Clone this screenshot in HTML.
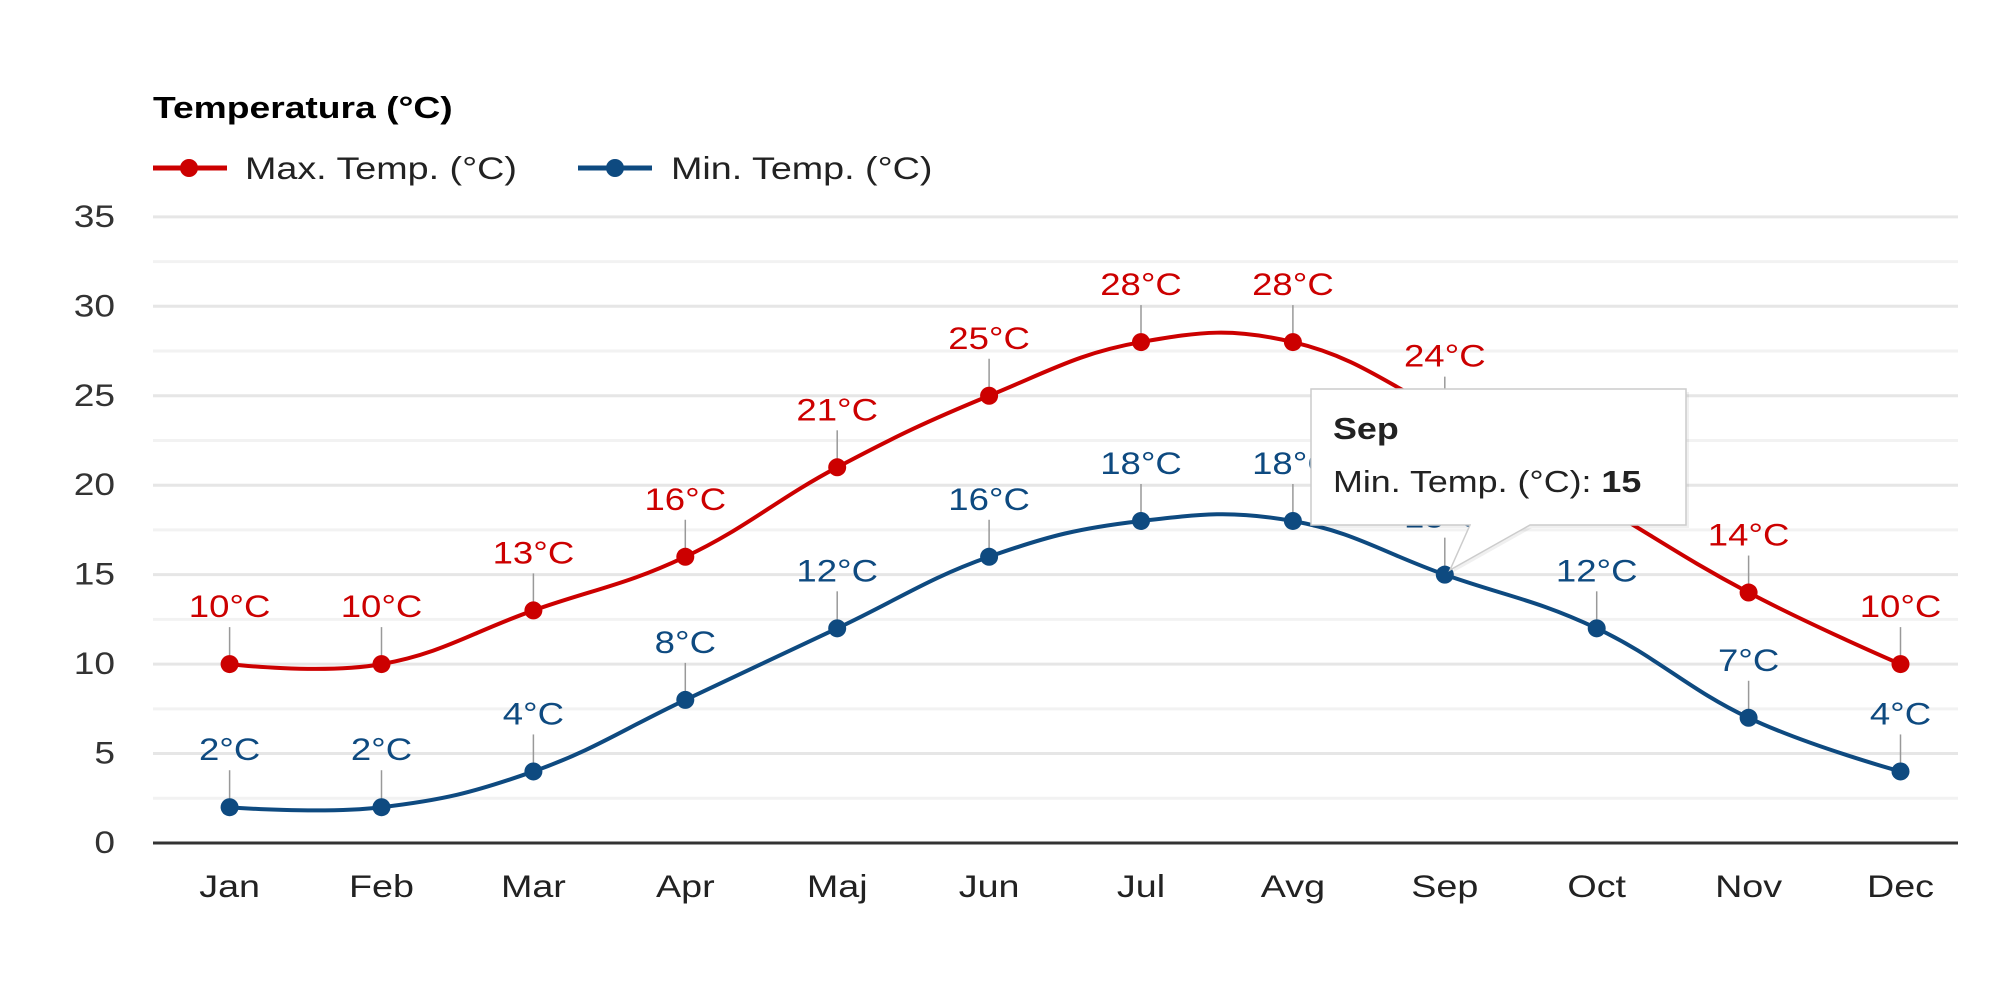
<!DOCTYPE html>
<html><head><meta charset="utf-8"><style>
html,body{margin:0;padding:0;background:#fff;width:2000px;height:1000px;overflow:hidden}
svg{font-family:"Liberation Sans",sans-serif}
</style></head><body>
<svg id="s" width="2000" height="1000" xmlns="http://www.w3.org/2000/svg"></svg>
<script>
const s=document.getElementById('s');
const X0=229.6,DX=151.9,Y0=843,PU=17.89;
const px=i=>X0+i*DX, py=v=>Y0-v*PU;
let h='';
function T(x,y,anc,size,fill,content,w,sx){sx=sx||1.28;
 return `<text transform="translate(${x},${y}) scale(${sx},1.08)" text-anchor="${anc}" font-size="${size}" fill="${fill}"${w?' font-weight="bold"':''}>${content}</text>`;}
for(let v=0;v<=35;v+=2.5){const y=py(v);
 if(v>0)h+=`<line x1="153" x2="1958" y1="${y}" y2="${y}" stroke="${v%5==0?'#e6e6e6':'#f2f2f2'}" stroke-width="3"/>`;
 if(v%5==0)h+=T(115,y+10,'end',29,'#333',v);}
h+=`<line x1="153" x2="1958" y1="843" y2="843" stroke="#333" stroke-width="3"/>`;
const m=['Jan','Feb','Mar','Apr','Maj','Jun','Jul','Avg','Sep','Oct','Nov','Dec'];
m.forEach((t,i)=>h+=T(px(i),897,'middle',29,'#222',t,0,1.3));
h+=T(153,118,'start',28,'#000','Temperatura (°C)',1,1.33);
h+=`<line x1="153" x2="227" y1="168" y2="168" stroke="#cc0000" stroke-width="5"/><circle cx="189" cy="168" r="9" fill="#cc0000"/>`;
h+=T(245,179,'start',29,'#222','Max. Temp. (°C)',0,1.3);
h+=`<line x1="578" x2="652" y1="168" y2="168" stroke="#0e4a80" stroke-width="5"/><circle cx="615" cy="168" r="9" fill="#0e4a80"/>`;
h+=T(671,179,'start',29,'#222','Min. Temp. (°C)',0,1.3);
function spline(d){const P=d.map((v,i)=>[px(i),py(v)]);let p=`M${P[0][0]},${P[0][1]}`;
 const cont=i=>{if(i==0||i==P.length-1)return null;const[x,y]=P[i],[lx,ly]=P[i-1],[nx,ny]=P[i+1];
  let lcx=(1.5*x+lx)/2.5,lcy=(1.5*y+ly)/2.5,rcx=(1.5*x+nx)/2.5,rcy=(1.5*y+ny)/2.5;
  const c=((rcy-lcy)*(rcx-x))/(rcx-lcx)+y-rcy;lcy+=c;rcy+=c;return[[lcx,lcy],[rcx,rcy]];};
 for(let i=1;i<P.length;i++){const a=cont(i-1),b=cont(i);const r=a?a[1]:P[i-1],l=b?b[0]:P[i];
  p+=` C${r[0]},${r[1]} ${l[0]},${l[1]} ${P[i][0]},${P[i][1]}`;}return p;}
function series(d,c){h+=`<path d="${spline(d)}" fill="none" stroke="${c}" stroke-width="4"/>`;
 d.forEach((v,i)=>{const x=px(i),y=py(v);
  h+=`<line x1="${x}" x2="${x}" y1="${y}" y2="${y-37}" stroke="#999" stroke-width="1.5"/>`;
  h+=`<circle cx="${x}" cy="${y}" r="9" fill="${c}"/>`;
  h+=T(x,y-47,'middle',29,c,v+'°C',0,1.26);});}
series([10,10,13,16,21,25,28,28,24,19,14,10],'#cc0000');
series([2,2,4,8,12,16,18,18,15,12,7,4],'#0e4a80');
h+=`<path d="M1313,392 H1689 V528 H1532 L1452,573 L1472,528 H1313 Z" fill="#000" fill-opacity="0.06"/>`;
h+=`<path d="M1311,389 H1686 V525 H1530 L1450,570 L1470,525 H1311 Z" fill="#fff" stroke="#ccc" stroke-width="1.5"/>`;
h+=T(1333,439,'start',28,'#222','Sep',1,1.28);
h+=T(1333,492,'start',28,'#222','Min. Temp. (°C): <tspan font-weight="bold">15</tspan>',0,1.28);
s.innerHTML=h;
</script>
</body></html>
